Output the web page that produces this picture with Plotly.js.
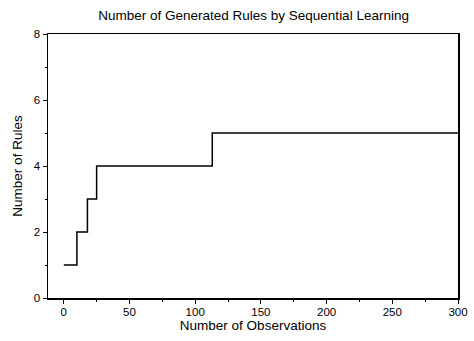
<!DOCTYPE html>
<html>
<head>
<meta charset="utf-8">
<script src="https://cdn.plot.ly/plotly-3.0.1.min.js"></script>
<style>html,body{margin:0;padding:0;background:#fff;}#chart{width:474px;height:341px;}</style>
</head>
<body>
<div id="chart"></div>
<script>
const observations = [0, 10, 18, 25, 113, 300];
const rules = [1, 2, 3, 4, 5, 5];
const xTicks = [0, 50, 100, 150, 200, 250, 300];
const yTicks = [0, 2, 4, 6, 8];

const trace = {
  x: observations,
  y: rules,
  type: 'scatter',
  mode: 'lines',
  line: {shape: 'hv', color: '#000', width: 1.5},
  hoverinfo: 'skip'
};

const font = {family: 'Liberation Sans, Arial, sans-serif', color: '#000'};

const layout = {
  width: 474,
  height: 341,
  margin: {l: 48, r: 16, t: 34, b: 43},
  paper_bgcolor: '#fff',
  plot_bgcolor: '#fff',
  showlegend: false,
  font: font,
  title: {
    text: 'Number of Generated Rules by Sequential Learning',
    font: {family: font.family, size: 13.5, color: '#000'},
    x: 0.535, xanchor: 'center', y: 0.955, yanchor: 'middle'
  },
  xaxis: {
    range: [-12, 300],
    tickvals: xTicks,
    ticktext: xTicks.map(String),
    ticks: 'outside', ticklen: 4, tickwidth: 1, tickcolor: '#000',
    ticklabelstandoff: -1,
    minor: {dtick: 25, tick0: 0, ticks: 'outside', ticklen: 2, tickcolor: '#000', showgrid: false},
    showgrid: false, zeroline: false,
    showline: true, linecolor: '#000', linewidth: 1.5, mirror: true,
    tickfont: {family: font.family, size: 11.5, color: '#000'},
    title: {text: 'Number of Observations', font: {family: font.family, size: 13.5, color: '#000'}, standoff: 2}
  },
  yaxis: {
    range: [0, 8],
    tickvals: yTicks,
    ticktext: yTicks.map(String),
    ticks: 'outside', ticklen: 4, tickwidth: 1, tickcolor: '#000',
    minor: {dtick: 1, tick0: 0, ticks: 'outside', ticklen: 2, tickcolor: '#000', showgrid: false},
    showgrid: false, zeroline: false,
    showline: true, linecolor: '#000', linewidth: 1.5, mirror: true,
    tickfont: {family: font.family, size: 11.5, color: '#000'},
    title: {text: 'Number of Rules', font: {family: font.family, size: 13.5, color: '#000'}, standoff: 8}
  }
};

Plotly.newPlot('chart', [trace], layout, {displayModeBar: false, staticPlot: true});
</script>
</body>
</html>
